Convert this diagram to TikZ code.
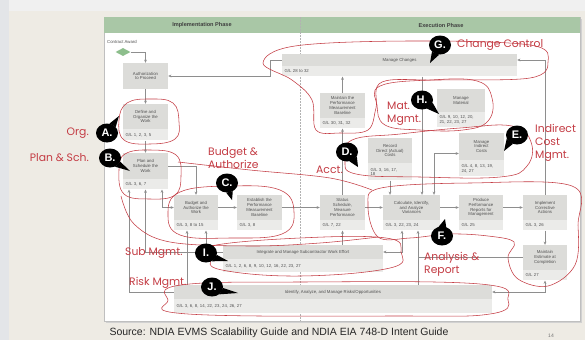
\documentclass[tikz,border=0pt]{standalone}
\usepackage{fontspec}
\setmainfont{Liberation Sans}
\newfontfamily\handfont{Poppins}
\usetikzlibrary{arrows.meta,shapes.geometric}

\definecolor{slidebg}{HTML}{EEEBE4}
\definecolor{stripgray}{HTML}{E3E5E8}
\definecolor{headgreen}{HTML}{A9C7A6}
\definecolor{awardgreen}{HTML}{8DBE8C}
\definecolor{boxgray}{HTML}{DCDCD9}
\definecolor{bandgray}{HTML}{EBEBE9}
\definecolor{linegray}{HTML}{8E8E8E}
\definecolor{txtgray}{HTML}{505050}
\definecolor{inkred}{HTML}{C43C44}

\newcommand{\boxfont}{\fontsize{4.3}{4.8}\selectfont}
\newcommand{\handsize}{\handfont\fontsize{10.8}{13}\selectfont}

\begin{document}
\begin{tikzpicture}[x=1pt, y=-1pt,
  proc/.style={fill=boxgray, text=txtgray, font=\boxfont, align=center, inner sep=0pt},
  gal/.style={fill=bandgray, text=txtgray, font=\boxfont, align=left, inner xsep=2.5pt, inner ysep=0pt, anchor=north},
  flow/.style={draw=linegray, line width=0.6pt, >={Stealth[length=3.2pt,width=2.8pt]}},
  redloop/.style={draw=inkred, line width=0.55pt},
  bubble/.style={ellipse, fill=black, text=white, font=\bfseries\fontsize{11}{11}\selectfont, minimum width=22pt, minimum height=19pt, inner sep=0pt},
  scrawl/.style={text=inkred, font=\handsize, align=left, inner sep=0pt}]
  \useasboundingbox (0,0) rectangle (585,340);
  \fill[slidebg] (0,0) rectangle (585,340);
  \fill[stripgray] (0,0) rectangle (9,340);
  \fill[black!6] (9,0) rectangle (585,11);

  % frame
  \fill[black!18] (106,19) rectangle (582,323);
  \fill[white, draw=black!25, line width=0.4pt] (104,17) rectangle (580,321);
  \fill[headgreen] (104,17) rectangle (580,33);
  \draw[black!30, line width=0.8pt, dash pattern=on 1.5pt off 1.5pt] (300,17) -- (300,321);
  \node[font=\bfseries\fontsize{5.6}{6}\selectfont, text=black!75] (impl) at (202,25) {Implementation Phase};
  \node[font=\bfseries\fontsize{5.6}{6}\selectfont, text=black!75] (exec) at (441,25) {Execution Phase};

  \node[font=\boxfont, text=txtgray, anchor=west, inner sep=0pt] (awardtxt) at (107,42) {Contract Award};
  \node[diamond, fill=awardgreen, minimum width=15pt, minimum height=8pt, inner sep=0pt] (award) at (123,52) {};

  % implementation phase
  \node[proc, minimum width=45pt, minimum height=26pt] (auth) at (145.5,76) {Authorization\\to Proceed};
  \node[proc, minimum width=45pt, minimum height=25pt] (define) at (145.5,116.5) {Define and\\Organize the\\Work};
  \node[gal, text width=40pt, minimum height=11pt] (define-gl) at (define.south) {G/L 1, 2, 3, 5};
  \node[proc, minimum width=45pt, minimum height=26pt] (plan) at (145.5,166) {Plan and\\Schedule the\\Work};
  \node[gal, text width=40pt, minimum height=10pt] (plan-gl) at (plan.south) {G/L 3, 6, 7};
  \node[proc, minimum width=44pt, minimum height=25pt] (budget) at (196,207.5) {Budget and\\Authorize the\\Work};
  \node[gal, text width=39pt, minimum height=10pt] (budget-gl) at (budget.south) {G/L 3, 8 to 15};
  \node[proc, minimum width=45pt, minimum height=25pt] (establish) at (259.5,207.5) {Establish the\\Performance\\Measurement\\Baseline};
  \node[gal, text width=40pt, minimum height=10pt] (establish-gl) at (establish.south) {G/L 3, 8};

  % execution phase
  \node[proc, minimum width=235pt, minimum height=12pt] (changes) at (399.5,60) {Manage Changes};
  \node[gal, text width=230pt, minimum height=10pt] (changes-gl) at (changes.south) {G/L 28 to 32};
  \node[proc, minimum width=45pt, minimum height=25pt] (pmb) at (342.5,105.5) {Maintain the\\Performance\\Measurement\\Baseline};
  \node[gal, text width=40pt, minimum height=10pt] (pmb-gl) at (pmb.south) {G/L 30, 31, 32};
  \node[proc, minimum width=48pt, minimum height=23pt] (material) at (461,100.5) {Manage\\Material};
  \node[gal, text width=43pt, minimum height=15pt] (material-gl) at (material.south) {G/L 9, 10, 12, 20,\\21, 22, 23, 27};
  \node[proc, minimum width=44pt, minimum height=25pt] (record) at (390,150.5) {Record\\Direct (Actual)\\Costs};
  \node[gal, text width=39pt, minimum height=17pt] (record-gl) at (record.south) {G/L 3, 16, 17,\\18};
  \node[proc, minimum width=45pt, minimum height=27pt] (indirect) at (481.5,146.5) {Manage\\Indirect\\Costs};
  \node[gal, text width=40pt, minimum height=16pt] (indirect-gl) at (indirect.south) {G/L 4, 8, 13, 19,\\24, 27};
  \node[proc, minimum width=45pt, minimum height=25pt] (status) at (342.5,207.5) {Status\\Schedule,\\Measure\\Performance};
  \node[gal, text width=40pt, minimum height=10pt] (status-gl) at (status.south) {G/L 7, 22};
  \node[proc, minimum width=57pt, minimum height=25pt] (calc) at (411.5,207.5) {Calculate, Identify,\\and Analyze\\Variances};
  \node[gal, text width=52pt, minimum height=10pt] (calc-gl) at (calc.south) {G/L 3, 22, 23, 24};
  \node[proc, minimum width=44pt, minimum height=25pt] (produce) at (481,207.5) {Produce\\Performance\\Reports for\\Management};
  \node[gal, text width=39pt, minimum height=10pt] (produce-gl) at (produce.south) {G/L 25};
  \node[proc, minimum width=44pt, minimum height=25pt] (implement) at (545,207.5) {Implement\\Corrective\\Actions};
  \node[gal, text width=39pt, minimum height=10pt] (implement-gl) at (implement.south) {G/L 3, 26};
  \node[proc, minimum width=44pt, minimum height=25pt] (eac) at (545,257.5) {Maintain\\Estimate at\\Completion};
  \node[gal, text width=39pt, minimum height=10pt] (eac-gl) at (eac.south) {G/L 27};

  % across both phases
  \node[proc, minimum width=160pt, minimum height=14pt] (subk) at (303,252) {Integrate and Manage Subcontractor Work Effort};
  \node[gal, text width=155pt, minimum height=13pt] (subk-gl) at (subk.south) {G/L 1, 2, 6, 8, 9, 10, 12, 16, 22, 23, 27};
  \node[proc, minimum width=318pt, minimum height=14pt] (risk) at (333,292) {Identify, Analyze, and Manage Risks/Opportunities};
  \node[gal, text width=313pt, minimum height=14pt] (risk-gl) at (risk.south) {G/L 3, 6, 8, 14, 22, 23, 24, 26, 27};

  \coordinate (plan-p1) at ([xshift=-16.5pt]plan-gl.south);
  \coordinate (plan-p3) at ([xshift=16.5pt]plan-gl.south);
  \coordinate (budget-p1) at ([xshift=-9pt]budget-gl.south);
  \coordinate (budget-p2) at ([xshift=10pt]budget-gl.south);
  \coordinate (calc-t1) at ([xshift=10.5pt]calc.north);
  \coordinate (calc-t2) at ([xshift=22.5pt]calc.north);
  \coordinate (calc-b1) at ([xshift=-9.5pt]calc-gl.south);
  \coordinate (calc-b2) at ([xshift=6.5pt]calc-gl.south);

  \draw[flow,->] (award.east) -| (auth.north);
  \draw[flow,->] (changes.west) -- ++(-12,0) |- (auth.east);
  \draw[flow,->] (auth) -- (define);
  \draw[flow,->] (define-gl) -- (plan);
  \draw[flow,->] (plan.east) -| (budget.north);
  \draw[flow,->] (budget) -- (establish);
  \draw[flow,->] (establish) -- (status);
  \draw[flow,->] (status) -- (calc);
  \draw[flow,->] (calc) -- (produce);
  \draw[flow,->] (produce) -- (implement);
  \draw[flow,->] (implement-gl) -- (eac);
  \draw[flow,->] (implement.north) |- (changes.east);
  \draw[flow,->] (status.north) -- (pmb-gl.south);
  \draw[flow,->] (pmb.north) -- (pmb.north |- changes-gl.south);
  \draw[flow,->] (changes-gl.south -| calc-t1) -- (calc-t1);
  \draw[flow,->] (record-gl.south) -- (record-gl.south |- calc.north);
  \draw[flow,<->] (calc-t2) |- ([yshift=-7pt]indirect.west);
  \draw[flow,<->] (budget.west) -| (plan-p3);
  \draw[flow,->] (subk.west) -| (plan-gl.south);
  \draw[flow,->] (risk.west) -| (plan-p1);
  \draw[flow,->] (risk.north -| budget-p1) -- (budget-p1);
  \draw[flow,->] (subk.north -| budget-p2) -- (budget-p2);
  \draw[flow,->] (subk.north -| status) -- (status-gl.south);
  \draw[flow,<->] (calc-b1) |- (subk.east);
  \draw[flow,->] (risk.north -| calc-b2) -- (calc-b2);
  \draw[flow] (eac.west) -- (eac.west -| calc-b2);
  \draw[flow,<->] (eac-gl.south) |- (risk.east);

  % red mark-up
  \draw[redloop] plot[smooth cycle, tension=0.7] coordinates {(119,120) (127,103) (150,99) (173,103) (179,122) (175,139) (150,144) (124,140)};
  \draw[redloop] plot[smooth cycle, tension=0.7] coordinates {(119,170) (125,154) (150,150) (176,155) (181,176) (175,195) (150,199) (124,194)};
  \draw[redloop] plot[smooth cycle, tension=0.7] coordinates {(168,214) (180,192) (230,186) (280,190) (294,212) (282,234) (230,238) (180,235)};
  \draw[redloop] plot[smooth, tension=0.6] coordinates {(178,162) (250,170) (330,178) (372,190)};
  \draw[redloop] plot[smooth, tension=0.6] coordinates {(121,196) (134,224) (170,242) (250,246) (320,243) (378,237)};
  \draw[redloop] plot[smooth cycle, tension=0.7] coordinates {(345,160) (352,140) (400,134) (460,128) (512,126) (531,142) (527,166) (500,177) (420,177) (356,174)};
  \draw[redloop] plot[smooth cycle, tension=0.6] coordinates {(368,205) (381,188) (470,183) (572,186) (578,225) (575,265) (548,286) (518,279) (508,258) (514,242) (488,236) (450,234) (410,238) (378,237)};
  \draw[redloop] plot[smooth cycle, tension=0.6] coordinates {(263,63) (295,46) (410,41) (530,45) (548,62) (530,78) (440,80) (382,82) (376,108) (368,130) (340,133) (316,130) (312,100) (292,80)};
  \draw[redloop] plot[smooth cycle, tension=0.7] coordinates {(380,86) (430,80) (477,81) (492,98) (488,121) (463,130) (420,130) (385,125) (377,105)};
  \draw[redloop] plot[smooth cycle, tension=0.7] coordinates {(211,246) (300,238) (386,238) (401,252) (390,268) (300,276) (222,270) (210,258)};
  \draw[redloop] plot[smooth cycle, tension=0.7] coordinates {(168,300) (181,285) (300,282) (480,284) (508,300) (490,314) (400,316) (188,314)};

  \node[bubble] (bA) at (107,133) {A.};
  \fill (bA.75) -- (119,116) -- (bA.35) -- cycle;
  \node[bubble] (bB) at (110,158) {B.};
  \fill (bB.-20) -- (130,171) -- (bB.-60) -- cycle;
  \node[bubble] (bC) at (227,183) {C.};
  \fill (bC.-55) -- (232,200) -- (bC.-95) -- cycle;
  \node[bubble] (bD) at (347,152) {D.};
  \fill (bD.-25) -- (358,167) -- (bD.-75) -- cycle;
  \node[bubble] (bE) at (517,135) {E.};
  \fill (bE.-115) -- (504,151) -- (bE.-160) -- cycle;
  \node[bubble] (bF) at (442,236) {F.};
  \fill (bF.65) -- (445,219) -- (bF.110) -- cycle;
  \node[bubble] (bG) at (440,45) {G.};
  \fill (bG.-95) -- (430,63) -- (bG.-140) -- cycle;
  \node[bubble] (bH) at (422,100) {H.};
  \fill (bH.-15) -- (439,114) -- (bH.-60) -- cycle;
  \node[bubble] (bI) at (206,253) {I.};
  \fill (bI.-10) -- (228,261) -- (bI.-55) -- cycle;
  \node[bubble] (bJ) at (212,287) {J.};
  \fill (bJ.-5) -- (238,293) -- (bJ.-45) -- cycle;

  \node[scrawl, anchor=east] (orgtxt) at (89,133) {Org.};
  \node[scrawl, anchor=east] (plantxt) at (89,158) {Plan \& Sch.};
  \node[scrawl, anchor=west] (budgettxt) at (208,158) {Budget \&\\Authorize};
  \node[scrawl, anchor=west] (accttxt) at (316,170) {Acct.};
  \node[scrawl, anchor=west] (indirecttxt) at (535,143) {Indirect\\Cost\\Mgmt.};
  \node[scrawl, anchor=west] (analysistxt) at (424,264) {Analysis \&\\Report};
  \node[scrawl, anchor=west] (changetxt) at (457,45) {Change Control};
  \node[scrawl, anchor=west] (mattxt) at (387,114) {Mat.\\Mgmt.};
  \node[scrawl, anchor=west] (subtxt) at (125,253) {Sub Mgmt.};
  \node[scrawl, anchor=west] (risktxt) at (129,283) {Risk Mgmt.};

  \node[anchor=west, font=\fontsize{10.5}{12}\selectfont, text=black!85] (source) at (106,333) {Source: NDIA EVMS Scalability Guide and NDIA EIA 748-D Intent Guide};
  \node[font=\fontsize{5}{6}\selectfont, text=black!55] (pageno) at (551,336) {14};
\end{tikzpicture}
\end{document}
